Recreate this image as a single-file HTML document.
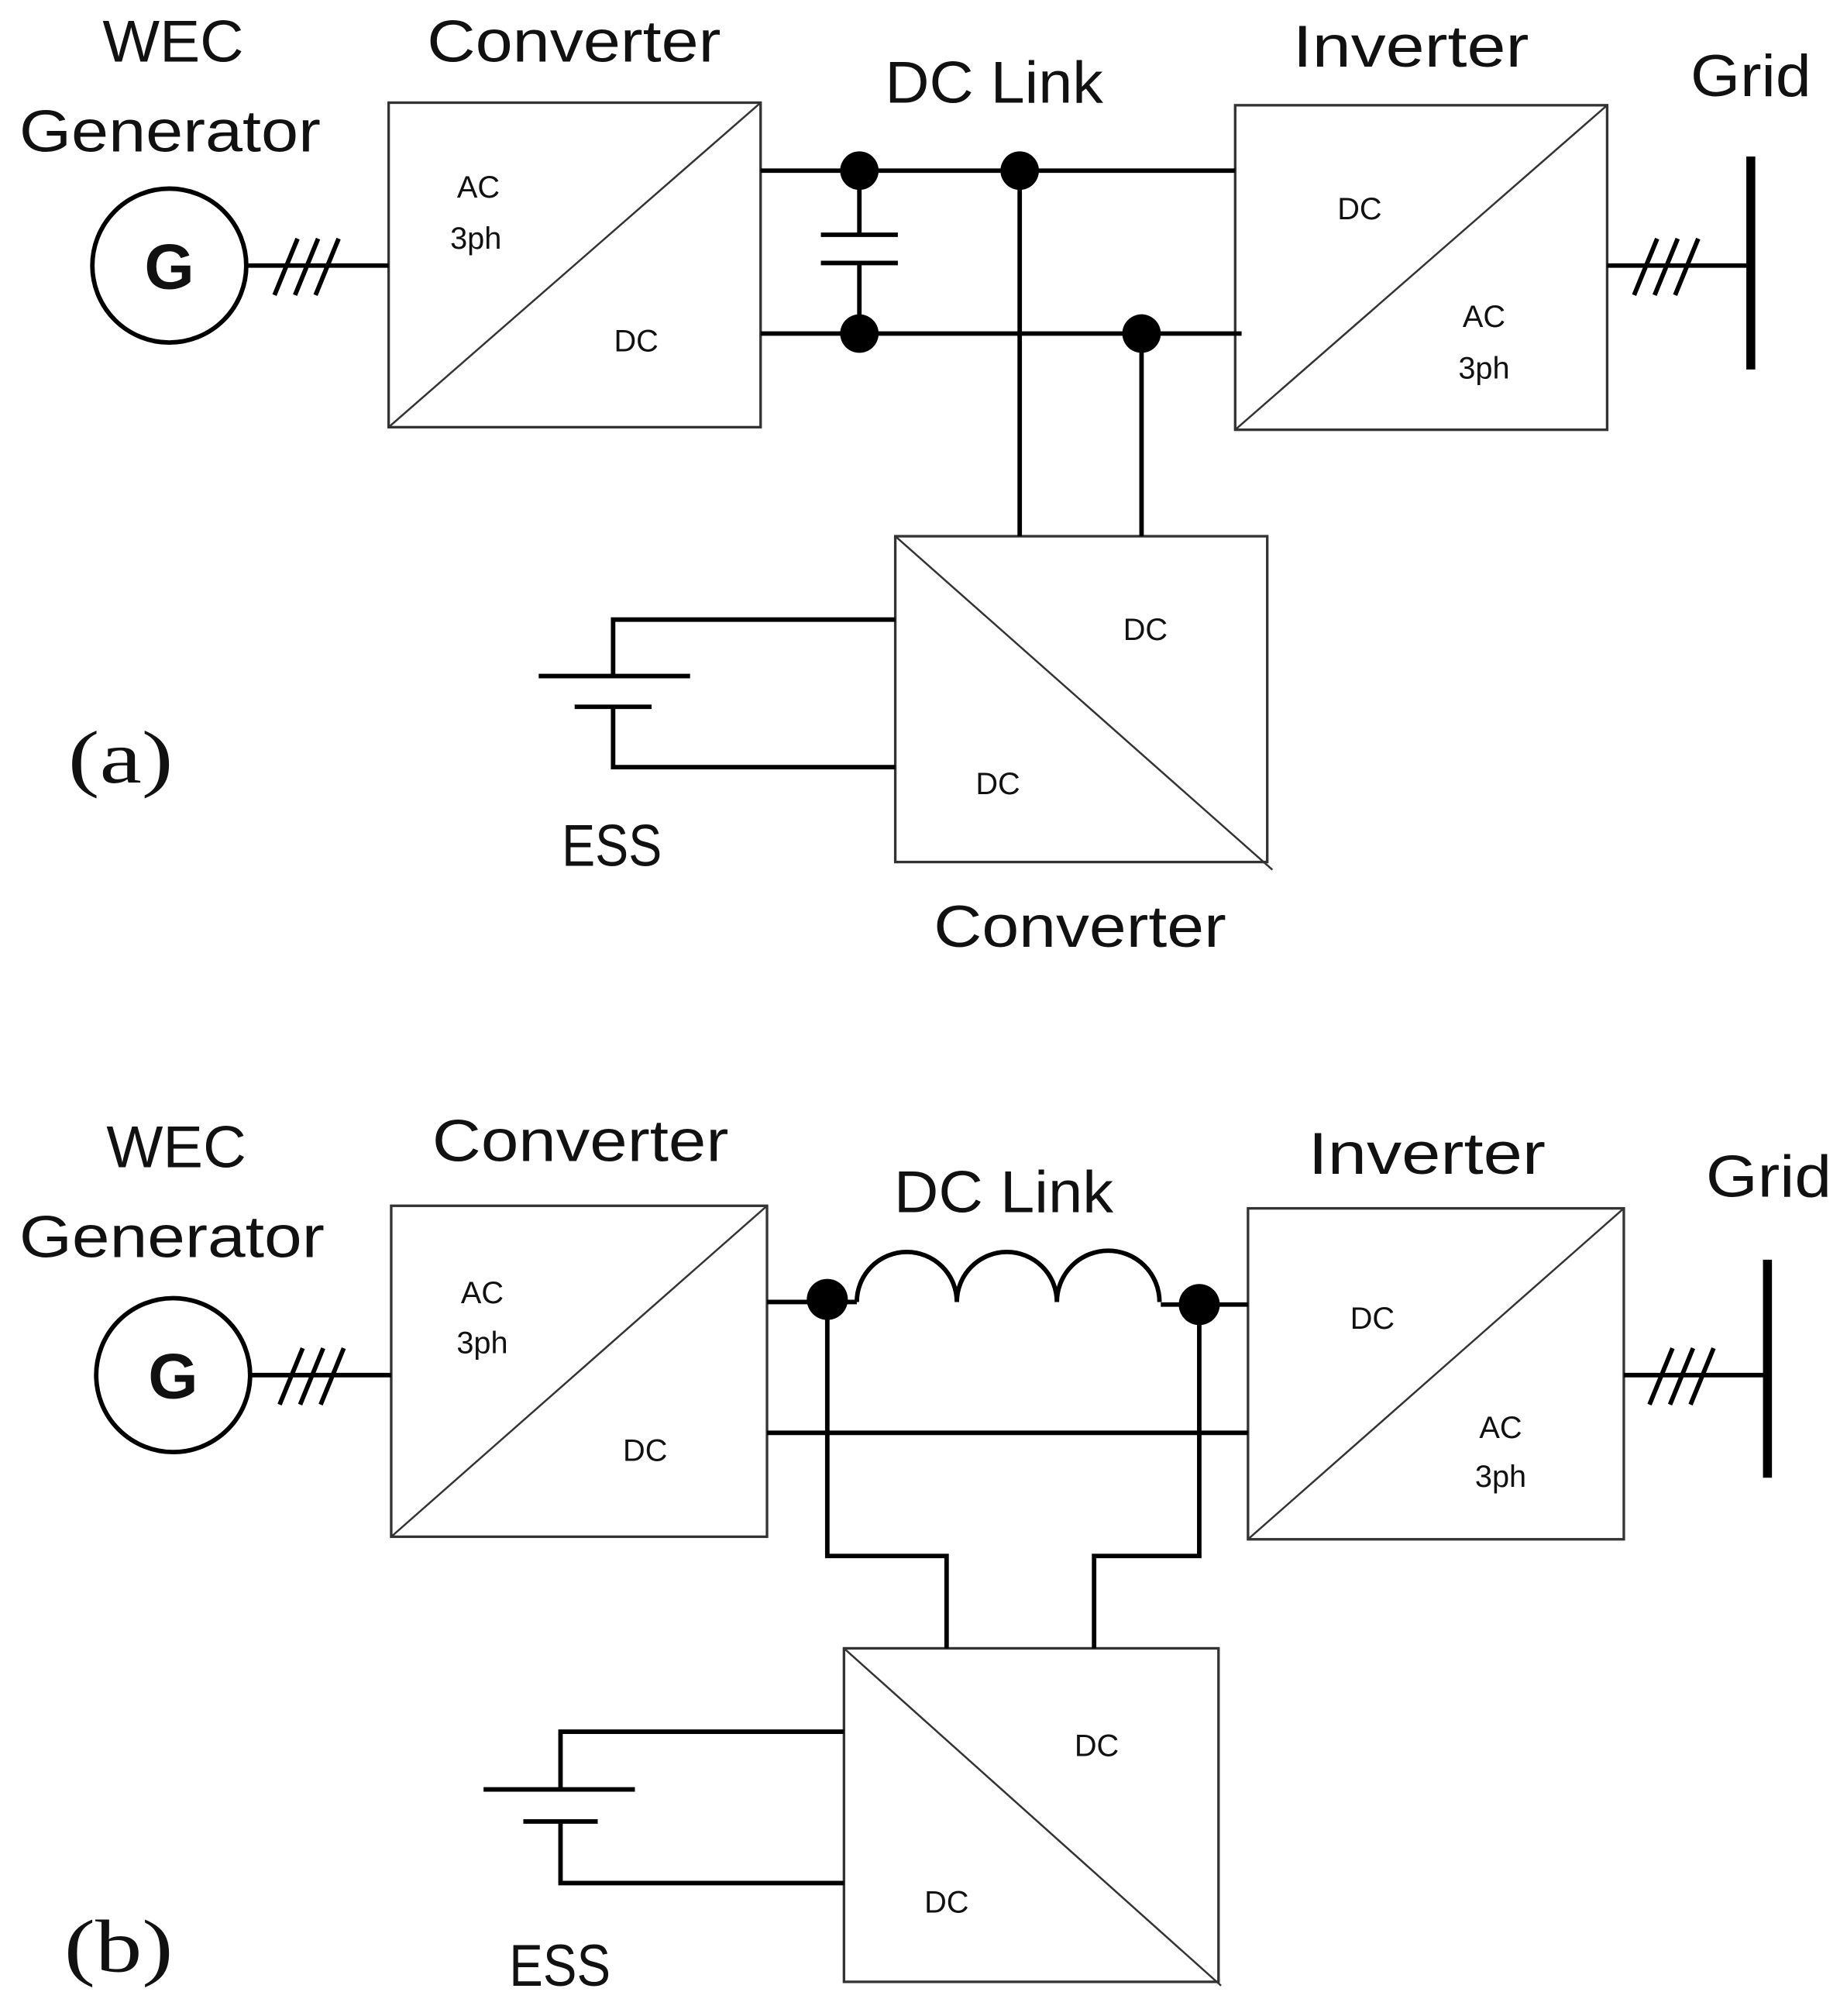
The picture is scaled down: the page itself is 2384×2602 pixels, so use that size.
<!DOCTYPE html>
<html><head><meta charset="utf-8"><style>html,body{margin:0;padding:0;background:#fff}svg{display:block}</style></head>
<body>
<svg width="2384" height="2602" viewBox="0 0 1440 1571.6" xmlns="http://www.w3.org/2000/svg" font-family="Liberation Sans, sans-serif">
<rect width="1440" height="1572" fill="#fff"/>
<g fill="#111" font-size="46" lengthAdjust="spacingAndGlyphs">
<text x="80" y="48" textLength="110" lengthAdjust="spacingAndGlyphs">WEC</text><text x="15" y="118" textLength="235" lengthAdjust="spacingAndGlyphs">Generator</text>
<text x="333" y="48" textLength="229" lengthAdjust="spacingAndGlyphs">Converter</text><text x="690" y="80" textLength="170" lengthAdjust="spacingAndGlyphs">DC Link</text>
<text x="1008" y="52" textLength="184" lengthAdjust="spacingAndGlyphs">Inverter</text><text x="1318" y="75" textLength="94" lengthAdjust="spacingAndGlyphs">Grid</text>
<text x="438" y="675" textLength="78" lengthAdjust="spacingAndGlyphs">ESS</text><text x="728" y="738" textLength="228" lengthAdjust="spacingAndGlyphs">Converter</text>
<text x="83" y="910" textLength="109" lengthAdjust="spacingAndGlyphs">WEC</text><text x="15" y="980" textLength="238" lengthAdjust="spacingAndGlyphs">Generator</text>
<text x="337" y="905" textLength="231" lengthAdjust="spacingAndGlyphs">Converter</text><text x="697" y="945" textLength="171" lengthAdjust="spacingAndGlyphs">DC Link</text>
<text x="1020" y="915" textLength="185" lengthAdjust="spacingAndGlyphs">Inverter</text><text x="1330" y="933" textLength="98" lengthAdjust="spacingAndGlyphs">Grid</text>
<text x="397" y="1548" textLength="79" lengthAdjust="spacingAndGlyphs">ESS</text>
</g>
<g font-family="Liberation Serif, serif" font-size="58" fill="#111">
<text x="53" y="610" textLength="82" lengthAdjust="spacingAndGlyphs">(a)</text><text x="50" y="1537" textLength="85" lengthAdjust="spacingAndGlyphs">(b)</text>
</g>
<g fill="#111" font-size="24" text-anchor="middle">
<text x="373" y="154">AC</text><text x="371" y="194">3ph</text><text x="496" y="274">DC</text>
<text x="1060" y="171">DC</text><text x="1157" y="255">AC</text><text x="1157" y="295">3ph</text>
<text x="893" y="499">DC</text><text x="778" y="619">DC</text>
<text x="376" y="1016">AC</text><text x="376" y="1055">3ph</text><text x="503" y="1139">DC</text>
<text x="1070" y="1036">DC</text><text x="1170" y="1121">AC</text><text x="1170" y="1159">3ph</text>
<text x="855" y="1369">DC</text><text x="738" y="1491">DC</text>
</g>
<g font-size="50" font-weight="bold" text-anchor="middle" fill="#111"><text x="132" y="225">G</text><text x="135" y="1090">G</text></g>
<g fill="none" stroke="#333" stroke-width="2">
<rect x="303" y="80" width="290" height="253"/><line x1="303" y1="333" x2="593" y2="80" stroke-width="1.5"/>
<rect x="963" y="82" width="290" height="253"/><line x1="963" y1="335" x2="1253" y2="82" stroke-width="1.5"/>
<rect x="698" y="418" width="290" height="254"/><line x1="698" y1="418" x2="992" y2="678" stroke-width="1.5"/>
<rect x="305" y="940" width="293" height="258"/><line x1="305" y1="1198" x2="598" y2="940" stroke-width="1.5"/>
<rect x="973" y="942" width="293" height="258"/><line x1="973" y1="1200" x2="1266" y2="942" stroke-width="1.5"/>
<rect x="658" y="1285" width="292" height="260"/><line x1="658" y1="1285" x2="952" y2="1548" stroke-width="1.5"/>
</g>
<g fill="none" stroke="#000" stroke-width="3.5">
<circle cx="132" cy="207" r="60"/><circle cx="135" cy="1072" r="60"/>
<path d="M192 207H303M1253 207H1365M593 133H963M593 260H968M670 133V183M670 205V260M640 183H700M640 205H700M795 133V418M890 260V418"/>
<path d="M698 483H478V527M420 527H538M448 551H508M478 551V598H698"/>
<path d="M214 230L232 186M230 230L248 186M246 230L264 186M1274 230L1292 186M1290 230L1308 186M1306 230L1324 186"/>
<path d="M195 1072H305M1266 1072H1378M598 1015H668M905 1017H973M598 1117H973"/>
<path d="M668 1015A39 39 0 0 1 746 1015A39 39 0 0 1 824 1015A40 40 0 0 1 904 1015"/>
<path d="M645 1013V1213H738V1285M935 1017V1213H853V1285"/>
<path d="M658 1350H437V1395M377 1395H495M408 1420H466M437 1420V1468H658"/>
<path d="M218 1095L236 1051M234 1095L252 1051M250 1095L268 1051M1286 1095L1304 1051M1302 1095L1320 1051M1318 1095L1336 1051"/>
</g>
<g stroke="#000" stroke-width="7"><line x1="1365" y1="122" x2="1365" y2="288"/><line x1="1378" y1="982" x2="1378" y2="1152"/></g>
<g fill="#000"><circle cx="670" cy="133" r="15"/><circle cx="795" cy="133" r="15"/><circle cx="670" cy="260" r="15"/><circle cx="890" cy="260" r="15"/><circle cx="645" cy="1013" r="16"/><circle cx="935" cy="1017" r="16"/></g>
</svg>
</body></html>
